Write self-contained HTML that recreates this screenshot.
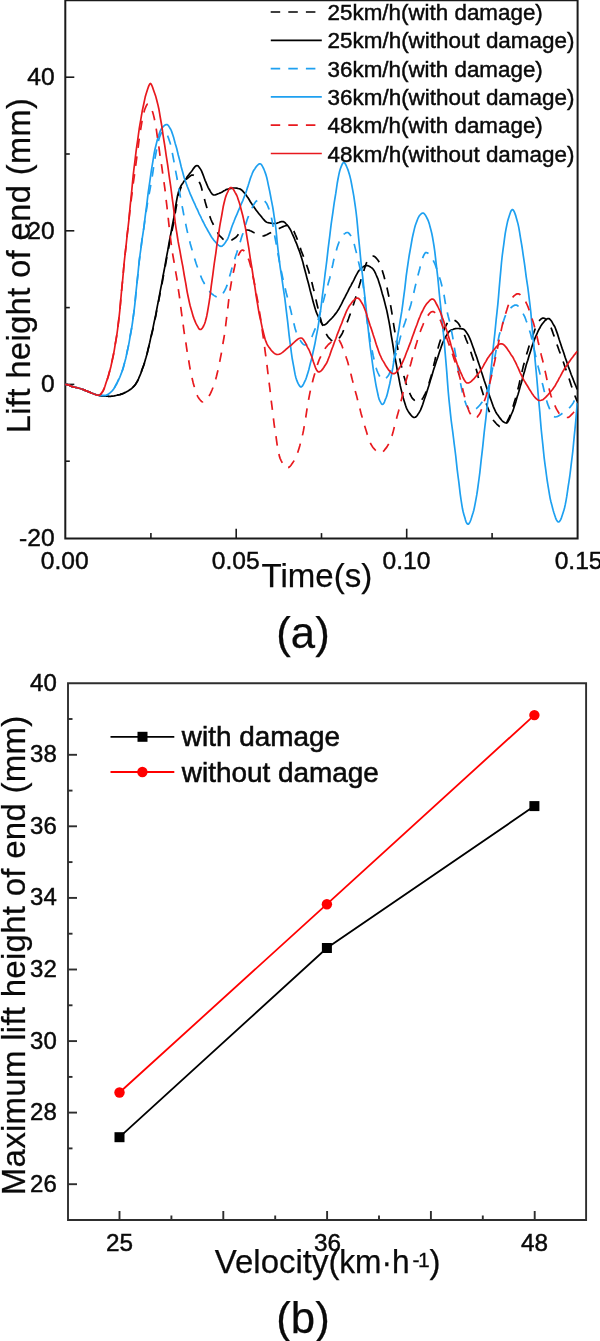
<!DOCTYPE html>
<html><head><meta charset="utf-8"><title>fig</title>
<style>html,body{margin:0;padding:0;background:#fff}body{width:600px;height:1341px;overflow:hidden}svg{display:block;will-change:transform}text{font-family:"Liberation Sans",sans-serif;fill:#0a0a0a;stroke:#0a0a0a;stroke-width:.45px}.big{stroke-width:.25px}</style></head><body>
<svg width="600" height="1341" viewBox="0 0 600 1341">
<rect width="600" height="1341" fill="#fff"/>
<g stroke="#1a1a1a" stroke-width="1.6" fill="none">
<path stroke-width="2" d="M65.3 0.3 V538.4 H577.6 V0.3 Z"/>
<path d="M65.3 77.2 h9"/>
<path d="M65.3 230.8 h9"/>
<path d="M65.3 384.4 h9"/>
<path d="M65.3 154.0 h4.5"/>
<path d="M65.3 307.6 h4.5"/>
<path d="M65.3 461.2 h4.5"/>
<path d="M150.9 538.4 v-5.3"/>
<path d="M236.2 538.4 v-9.7"/>
<path d="M321.5 538.4 v-5.3"/>
<path d="M406.7 538.4 v-9.7"/>
<path d="M492.1 538.4 v-5.3"/>
</g>
<clipPath id="ca"><rect x="65.3" y="0" width="512.3000000000001" height="538.4"/></clipPath>
<g clip-path="url(#ca)" fill="none" stroke-width="1.7" stroke-linejoin="round">
<path d="M65.0 384.5 L65.8 384.5 L66.5 384.6 L67.2 384.7 L68.0 384.8 L68.8 385.0 L69.5 385.3 L70.2 385.7 L71.0 386.1 L71.8 386.4 L72.5 386.7 L73.2 386.9 L74.0 387.1 L74.8 387.2 L75.5 387.4 L76.2 387.6 L77.0 387.7 L77.8 387.9 L78.5 388.1 L79.2 388.3 L80.0 388.5 L80.8 388.7 L81.5 389.0 L82.2 389.2 L83.0 389.5 L83.8 389.8 L84.5 390.1 L85.2 390.4 L86.0 390.7 L86.8 391.0 L87.5 391.3 L88.2 391.6 L89.0 391.9 L89.8 392.2 L90.5 392.6 L91.2 392.9 L92.0 393.2 L92.8 393.5 L93.5 393.8 L94.2 394.1 L95.0 394.3 L95.8 394.6 L96.5 394.8 L97.2 395.0 L98.0 395.1 L98.8 395.3 L99.5 395.4 L100.2 395.6 L101.0 395.7 L101.8 395.8 L102.5 395.9 L103.2 395.9 L104.0 396.0 L104.8 396.1 L105.5 396.1 L106.2 396.2 L107.0 396.2 L107.8 396.2 L108.5 396.3 L109.2 396.3 L110.0 396.3 L110.8 396.3 L111.5 396.2 L112.2 396.2 L113.0 396.1 L113.8 396.0 L114.5 395.8 L115.2 395.7 L116.0 395.5 L116.8 395.3 L117.5 395.1 L118.2 395.0 L119.0 394.8 L119.8 394.6 L120.5 394.4 L121.2 394.1 L122.0 393.9 L122.8 393.6 L123.5 393.3 L124.2 393.0 L125.0 392.6 L125.8 392.2 L126.5 391.8 L127.2 391.4 L128.0 391.0 L128.8 390.5 L129.5 390.1 L130.2 389.5 L131.0 389.0 L131.8 388.4 L132.5 387.7 L133.2 387.0 L134.0 386.2 L134.8 385.3 L135.5 384.3 L136.2 383.2 L137.0 381.9 L137.8 380.4 L138.5 378.8 L139.2 377.1 L140.0 375.3 L140.8 373.3 L141.5 371.3 L142.2 369.3 L143.0 367.1 L143.8 365.0 L144.5 362.7 L145.2 360.3 L146.0 357.7 L146.8 355.0 L147.5 352.1 L148.2 349.1 L149.0 346.0 L149.8 342.9 L150.5 339.7 L151.2 336.4 L152.0 333.2 L152.8 329.9 L153.5 326.5 L154.2 323.0 L155.0 319.4 L155.8 315.7 L156.5 311.9 L157.2 308.1 L158.0 304.3 L158.8 300.4 L159.5 296.6 L160.2 292.7 L161.0 288.8 L161.8 284.9 L162.5 281.0 L163.2 277.0 L164.0 273.0 L164.8 268.9 L165.5 264.9 L166.2 260.8 L167.0 256.8 L167.8 252.8 L168.5 248.8 L169.2 244.9 L170.0 241.0 L170.8 237.2 L171.5 233.5 L172.2 229.8 L173.0 226.0 L173.8 222.0 L174.5 217.7 L175.2 213.0 L176.0 208.3 L176.8 203.9 L177.5 200.0 L178.2 196.5 L179.0 193.3 L179.8 190.7 L180.5 188.8 L181.2 187.1 L182.0 185.6 L182.8 184.2 L183.5 183.1 L184.2 182.0 L185.0 181.0 L185.8 180.1 L186.5 179.2 L187.2 178.5 L188.0 177.8 L188.8 177.2 L189.5 176.6 L190.2 176.0 L191.0 175.5 L191.8 175.1 L192.5 175.0 L193.2 175.1 L194.0 175.5 L194.8 176.0 L195.5 176.6 L196.2 177.2 L197.0 178.1 L197.8 179.2 L198.5 180.5 L199.2 181.9 L200.0 183.5 L200.8 185.4 L201.5 187.8 L202.2 190.5 L203.0 193.3 L203.8 196.3 L204.5 199.2 L205.2 201.9 L206.0 204.7 L206.8 207.5 L207.5 210.0 L208.2 212.2 L209.0 214.3 L209.8 216.3 L210.5 218.2 L211.2 220.0 L212.0 221.8 L212.8 223.4 L213.5 225.0 L214.2 226.5 L215.0 228.0 L215.8 229.4 L216.5 230.8 L217.2 232.1 L218.0 233.4 L218.8 234.5 L219.5 235.4 L220.2 236.3 L221.0 237.0 L221.8 237.8 L222.5 238.6 L223.2 239.3 L224.0 239.9 L224.8 240.5 L225.5 240.9 L226.2 241.3 L227.0 241.5 L227.8 241.5 L228.5 241.4 L229.2 241.2 L230.0 241.0 L230.8 240.6 L231.5 240.2 L232.2 239.8 L233.0 239.3 L233.8 238.8 L234.5 238.3 L235.2 237.8 L236.0 237.2 L236.8 236.4 L237.5 235.5 L238.2 234.6 L239.0 233.7 L239.8 232.9 L240.5 232.3 L241.2 231.9 L242.0 231.5 L242.8 231.2 L243.5 230.9 L244.2 230.6 L245.0 230.4 L245.8 230.2 L246.5 230.1 L247.2 230.0 L248.0 230.0 L248.8 230.2 L249.5 230.4 L250.2 230.7 L251.0 231.0 L251.8 231.4 L252.5 231.8 L253.2 232.2 L254.0 232.6 L254.8 232.9 L255.5 233.2 L256.2 233.6 L257.0 234.0 L257.8 234.4 L258.5 234.7 L259.2 235.1 L260.0 235.4 L260.8 235.7 L261.5 235.9 L262.2 236.0 L263.0 236.0 L263.8 235.9 L264.5 235.6 L265.2 235.4 L266.0 235.0 L266.8 234.7 L267.5 234.3 L268.2 233.9 L269.0 233.5 L269.8 233.1 L270.5 232.8 L271.2 232.4 L272.0 232.0 L272.8 231.6 L273.5 231.3 L274.2 230.9 L275.0 230.4 L275.8 230.1 L276.5 229.7 L277.2 229.3 L278.0 228.9 L278.8 228.6 L279.5 228.3 L280.2 227.9 L281.0 227.6 L281.8 227.2 L282.5 226.9 L283.2 226.6 L284.0 226.3 L284.8 226.0 L285.5 225.8 L286.2 225.6 L287.0 225.5 L287.8 225.5 L288.5 225.7 L289.2 226.1 L290.0 226.7 L290.8 227.4 L291.5 228.2 L292.2 229.1 L293.0 230.0 L293.8 231.1 L294.5 232.6 L295.2 234.3 L296.0 236.1 L296.8 238.1 L297.5 240.0 L298.2 242.0 L299.0 244.1 L299.8 246.4 L300.5 248.6 L301.2 250.7 L302.0 252.7 L302.8 254.7 L303.5 256.6 L304.2 258.5 L305.0 260.5 L305.8 262.5 L306.5 264.6 L307.2 266.7 L308.0 269.1 L308.8 271.5 L309.5 274.1 L310.2 276.7 L311.0 279.5 L311.8 282.2 L312.5 285.0 L313.2 287.9 L314.0 290.9 L314.8 294.1 L315.5 297.4 L316.2 300.8 L317.0 304.2 L317.8 307.5 L318.5 310.7 L319.2 313.9 L320.0 316.8 L320.8 319.6 L321.5 322.1 L322.2 324.3 L323.0 326.3 L323.8 328.2 L324.5 330.0 L325.2 331.7 L326.0 333.3 L326.8 334.8 L327.5 336.1 L328.2 337.1 L329.0 338.0 L329.8 338.7 L330.5 339.5 L331.2 340.1 L332.0 340.7 L332.8 341.3 L333.5 341.7 L334.2 341.9 L335.0 342.0 L335.8 341.8 L336.5 341.3 L337.2 340.6 L338.0 339.7 L338.8 338.7 L339.5 337.7 L340.2 336.7 L341.0 335.5 L341.8 334.2 L342.5 332.8 L343.2 331.2 L344.0 329.6 L344.8 327.9 L345.5 326.2 L346.2 324.4 L347.0 322.6 L347.8 320.7 L348.5 318.8 L349.2 316.7 L350.0 314.6 L350.8 312.5 L351.5 310.3 L352.2 308.1 L353.0 305.8 L353.8 303.5 L354.5 301.2 L355.2 298.9 L356.0 296.6 L356.8 294.2 L357.5 291.8 L358.2 289.3 L359.0 286.7 L359.8 284.1 L360.5 281.5 L361.2 279.0 L362.0 276.5 L362.8 274.2 L363.5 271.9 L364.2 269.4 L365.0 267.1 L365.8 264.8 L366.5 262.8 L367.2 261.2 L368.0 260.0 L368.8 259.1 L369.5 258.2 L370.2 257.5 L371.0 256.8 L371.8 256.3 L372.5 256.1 L373.2 256.0 L374.0 256.2 L374.8 256.7 L375.5 257.3 L376.2 258.1 L377.0 259.0 L377.8 260.0 L378.5 261.0 L379.2 262.2 L380.0 263.8 L380.8 265.7 L381.5 267.9 L382.2 270.3 L383.0 272.9 L383.8 275.5 L384.5 278.2 L385.2 280.9 L386.0 283.8 L386.8 286.8 L387.5 290.1 L388.2 293.5 L389.0 297.1 L389.8 300.9 L390.5 304.8 L391.2 308.9 L392.0 313.6 L392.8 318.6 L393.5 323.5 L394.2 328.0 L395.0 332.6 L395.8 337.1 L396.5 341.5 L397.2 345.9 L398.0 350.0 L398.8 354.0 L399.5 357.7 L400.2 361.1 L401.0 364.4 L401.8 367.6 L402.5 370.6 L403.2 373.6 L404.0 376.4 L404.8 379.1 L405.5 381.6 L406.2 384.0 L407.0 386.1 L407.8 388.2 L408.5 390.1 L409.2 392.0 L410.0 393.8 L410.8 395.5 L411.5 396.9 L412.2 398.1 L413.0 399.0 L413.8 399.7 L414.5 400.4 L415.2 401.0 L416.0 401.5 L416.8 402.0 L417.5 402.3 L418.2 402.5 L419.0 402.5 L419.8 402.1 L420.5 401.5 L421.2 400.5 L422.0 399.4 L422.8 398.1 L423.5 396.9 L424.2 395.6 L425.0 394.1 L425.8 392.4 L426.5 390.5 L427.2 388.4 L428.0 386.2 L428.8 383.9 L429.5 381.6 L430.2 379.2 L431.0 376.6 L431.8 373.7 L432.5 370.6 L433.2 367.4 L434.0 364.1 L434.8 360.9 L435.5 357.7 L436.2 354.6 L437.0 351.8 L437.8 349.1 L438.5 346.6 L439.2 344.0 L440.0 341.5 L440.8 339.0 L441.5 336.7 L442.2 334.4 L443.0 332.3 L443.8 330.3 L444.5 328.6 L445.2 327.0 L446.0 325.5 L446.8 324.0 L447.5 322.7 L448.2 321.7 L449.0 321.0 L449.8 320.5 L450.5 320.1 L451.2 319.7 L452.0 319.5 L452.8 319.5 L453.5 319.7 L454.2 320.0 L455.0 320.5 L455.8 321.0 L456.5 321.6 L457.2 322.2 L458.0 323.0 L458.8 324.1 L459.5 325.3 L460.2 326.7 L461.0 328.1 L461.8 329.5 L462.5 331.0 L463.2 332.5 L464.0 334.2 L464.8 335.9 L465.5 337.7 L466.2 339.6 L467.0 341.5 L467.8 343.5 L468.5 345.5 L469.2 347.6 L470.0 349.8 L470.8 351.9 L471.5 354.1 L472.2 356.3 L473.0 358.5 L473.8 360.9 L474.5 363.3 L475.2 365.9 L476.0 368.6 L476.8 371.3 L477.5 374.1 L478.2 376.9 L479.0 379.7 L479.8 382.5 L480.5 385.3 L481.2 388.0 L482.0 390.6 L482.8 393.1 L483.5 395.6 L484.2 397.9 L485.0 400.0 L485.8 402.1 L486.5 404.2 L487.2 406.3 L488.0 408.3 L488.8 410.4 L489.5 412.3 L490.2 414.1 L491.0 415.9 L491.8 417.4 L492.5 418.8 L493.2 420.0 L494.0 421.0 L494.8 421.9 L495.5 422.7 L496.2 423.5 L497.0 424.3 L497.8 425.0 L498.5 425.7 L499.2 426.3 L500.0 426.7 L500.8 427.1 L501.5 427.4 L502.2 427.5 L503.0 427.4 L503.8 426.9 L504.5 426.1 L505.2 425.0 L506.0 423.7 L506.8 422.3 L507.5 420.9 L508.2 419.5 L509.0 418.0 L509.8 416.2 L510.5 414.2 L511.2 412.0 L512.0 409.8 L512.8 407.4 L513.5 405.0 L514.2 402.5 L515.0 400.0 L515.8 397.4 L516.5 394.7 L517.2 391.7 L518.0 388.7 L518.8 385.6 L519.5 382.4 L520.2 379.2 L521.0 375.9 L521.8 372.7 L522.5 369.6 L523.2 366.6 L524.0 363.7 L524.8 360.9 L525.5 358.3 L526.2 355.7 L527.0 353.1 L527.8 350.6 L528.5 348.1 L529.2 345.7 L530.0 343.4 L530.8 341.1 L531.5 338.8 L532.2 336.7 L533.0 334.6 L533.8 332.6 L534.5 330.7 L535.2 328.7 L536.0 326.8 L536.8 325.0 L537.5 323.3 L538.2 322.0 L539.0 321.0 L539.8 320.2 L540.5 319.5 L541.2 318.9 L542.0 318.4 L542.8 318.1 L543.5 318.0 L544.2 318.2 L545.0 318.6 L545.8 319.3 L546.5 320.1 L547.2 321.1 L548.0 322.0 L548.8 323.1 L549.5 324.4 L550.2 326.0 L551.0 327.7 L551.8 329.6 L552.5 331.6 L553.2 333.7 L554.0 335.9 L554.8 338.1 L555.5 340.4 L556.2 342.5 L557.0 344.6 L557.8 346.7 L558.5 348.7 L559.2 350.7 L560.0 352.8 L560.8 354.8 L561.5 356.9 L562.2 359.0 L563.0 361.1 L563.8 363.3 L564.5 365.4 L565.2 367.6 L566.0 369.7 L566.8 371.8 L567.5 374.0 L568.2 376.2 L569.0 378.4 L569.8 380.7 L570.5 383.0 L571.2 385.3 L572.0 387.5 L572.8 389.7 L573.5 391.9 L574.2 394.0 L575.0 396.0 L575.8 397.9 L576.5 399.7 L577.2 401.4" stroke="#000" stroke-dasharray="9.5 8.5"/>
<path d="M65.0 384.5 L65.8 384.5 L66.5 384.6 L67.2 384.7 L68.0 384.8 L68.8 385.0 L69.5 385.3 L70.2 385.7 L71.0 386.1 L71.8 386.4 L72.5 386.7 L73.2 386.9 L74.0 387.1 L74.8 387.2 L75.5 387.4 L76.2 387.6 L77.0 387.7 L77.8 387.9 L78.5 388.1 L79.2 388.3 L80.0 388.5 L80.8 388.7 L81.5 389.0 L82.2 389.2 L83.0 389.5 L83.8 389.8 L84.5 390.1 L85.2 390.4 L86.0 390.7 L86.8 391.0 L87.5 391.3 L88.2 391.6 L89.0 391.9 L89.8 392.2 L90.5 392.6 L91.2 392.9 L92.0 393.2 L92.8 393.5 L93.5 393.8 L94.2 394.1 L95.0 394.3 L95.8 394.6 L96.5 394.8 L97.2 395.0 L98.0 395.1 L98.8 395.3 L99.5 395.4 L100.2 395.6 L101.0 395.7 L101.8 395.8 L102.5 395.9 L103.2 395.9 L104.0 396.0 L104.8 396.1 L105.5 396.1 L106.2 396.2 L107.0 396.2 L107.8 396.2 L108.5 396.3 L109.2 396.3 L110.0 396.3 L110.8 396.3 L111.5 396.2 L112.2 396.2 L113.0 396.1 L113.8 396.0 L114.5 395.8 L115.2 395.7 L116.0 395.5 L116.8 395.3 L117.5 395.1 L118.2 395.0 L119.0 394.8 L119.8 394.6 L120.5 394.4 L121.2 394.1 L122.0 393.9 L122.8 393.6 L123.5 393.3 L124.2 393.0 L125.0 392.6 L125.8 392.2 L126.5 391.8 L127.2 391.4 L128.0 391.0 L128.8 390.5 L129.5 390.1 L130.2 389.5 L131.0 389.0 L131.8 388.4 L132.5 387.7 L133.2 387.0 L134.0 386.2 L134.8 385.3 L135.5 384.3 L136.2 383.2 L137.0 381.9 L137.8 380.5 L138.5 378.9 L139.2 377.1 L140.0 375.3 L140.8 373.4 L141.5 371.4 L142.2 369.3 L143.0 367.2 L143.8 365.0 L144.5 362.7 L145.2 360.2 L146.0 357.6 L146.8 354.7 L147.5 351.8 L148.2 348.7 L149.0 345.5 L149.8 342.2 L150.5 338.9 L151.2 335.6 L152.0 332.2 L152.8 328.9 L153.5 325.4 L154.2 321.9 L155.0 318.2 L155.8 314.5 L156.5 310.7 L157.2 306.8 L158.0 302.9 L158.8 299.0 L159.5 295.1 L160.2 291.2 L161.0 287.2 L161.8 283.2 L162.5 279.2 L163.2 275.1 L164.0 271.0 L164.8 266.9 L165.5 262.7 L166.2 258.6 L167.0 254.4 L167.8 250.3 L168.5 246.1 L169.2 242.1 L170.0 238.0 L170.8 234.0 L171.5 230.1 L172.2 226.1 L173.0 222.1 L173.8 218.0 L174.5 213.5 L175.2 208.7 L176.0 203.9 L176.8 199.6 L177.5 196.0 L178.2 193.1 L179.0 190.6 L179.8 188.6 L180.5 186.9 L181.2 185.5 L182.0 184.3 L182.8 183.2 L183.5 182.1 L184.2 181.1 L185.0 180.0 L185.8 178.9 L186.5 177.9 L187.2 176.8 L188.0 175.8 L188.8 174.8 L189.5 173.8 L190.2 172.9 L191.0 172.0 L191.8 171.0 L192.5 170.0 L193.2 168.9 L194.0 167.9 L194.8 166.9 L195.5 166.2 L196.2 165.7 L197.0 165.5 L197.8 165.7 L198.5 166.4 L199.2 167.3 L200.0 168.4 L200.8 169.6 L201.5 170.9 L202.2 172.6 L203.0 174.6 L203.8 176.7 L204.5 178.7 L205.2 180.6 L206.0 182.4 L206.8 184.3 L207.5 186.0 L208.2 187.6 L209.0 189.0 L209.8 190.3 L210.5 191.6 L211.2 192.8 L212.0 193.8 L212.8 194.6 L213.5 195.0 L214.2 195.0 L215.0 194.9 L215.8 194.7 L216.5 194.4 L217.2 194.2 L218.0 193.8 L218.8 193.5 L219.5 193.2 L220.2 192.9 L221.0 192.6 L221.8 192.2 L222.5 191.7 L223.2 191.3 L224.0 190.8 L224.8 190.4 L225.5 190.0 L226.2 189.6 L227.0 189.3 L227.8 189.1 L228.5 188.9 L229.2 188.7 L230.0 188.6 L230.8 188.4 L231.5 188.3 L232.2 188.2 L233.0 188.1 L233.8 188.0 L234.5 188.0 L235.2 188.0 L236.0 188.1 L236.8 188.2 L237.5 188.3 L238.2 188.5 L239.0 188.7 L239.8 188.9 L240.5 189.2 L241.2 189.7 L242.0 190.3 L242.8 191.1 L243.5 191.9 L244.2 192.8 L245.0 193.8 L245.8 194.7 L246.5 195.6 L247.2 196.7 L248.0 197.8 L248.8 199.0 L249.5 200.2 L250.2 201.5 L251.0 202.7 L251.8 203.9 L252.5 205.0 L253.2 206.1 L254.0 207.1 L254.8 208.2 L255.5 209.2 L256.2 210.3 L257.0 211.3 L257.8 212.3 L258.5 213.2 L259.2 214.1 L260.0 215.0 L260.8 215.9 L261.5 216.8 L262.2 217.8 L263.0 218.7 L263.8 219.6 L264.5 220.4 L265.2 221.2 L266.0 221.8 L266.8 222.2 L267.5 222.5 L268.2 222.7 L269.0 222.8 L269.8 223.0 L270.5 223.1 L271.2 223.2 L272.0 223.3 L272.8 223.4 L273.5 223.5 L274.2 223.5 L275.0 223.5 L275.8 223.4 L276.5 223.3 L277.2 223.1 L278.0 222.8 L278.8 222.5 L279.5 222.2 L280.2 221.9 L281.0 221.7 L281.8 221.6 L282.5 221.5 L283.2 221.6 L284.0 222.0 L284.8 222.5 L285.5 223.2 L286.2 224.0 L287.0 224.8 L287.8 225.7 L288.5 226.6 L289.2 227.7 L290.0 229.0 L290.8 230.4 L291.5 232.0 L292.2 233.6 L293.0 235.3 L293.8 237.1 L294.5 238.8 L295.2 240.6 L296.0 242.3 L296.8 244.2 L297.5 246.1 L298.2 248.1 L299.0 250.1 L299.8 252.3 L300.5 254.5 L301.2 256.8 L302.0 259.3 L302.8 261.9 L303.5 264.7 L304.2 267.6 L305.0 270.5 L305.8 273.4 L306.5 276.3 L307.2 279.1 L308.0 281.8 L308.8 284.7 L309.5 287.6 L310.2 290.5 L311.0 293.5 L311.8 296.4 L312.5 299.3 L313.2 302.1 L314.0 304.8 L314.8 307.4 L315.5 309.8 L316.2 311.9 L317.0 313.9 L317.8 315.5 L318.5 317.2 L319.2 318.8 L320.0 320.4 L320.8 321.9 L321.5 323.2 L322.2 324.1 L323.0 324.8 L323.8 325.0 L324.5 324.9 L325.2 324.5 L326.0 324.0 L326.8 323.4 L327.5 322.6 L328.2 321.8 L329.0 321.0 L329.8 320.2 L330.5 319.5 L331.2 318.8 L332.0 318.0 L332.8 317.1 L333.5 316.3 L334.2 315.4 L335.0 314.4 L335.8 313.4 L336.5 312.4 L337.2 311.4 L338.0 310.2 L338.8 309.0 L339.5 307.7 L340.2 306.3 L341.0 304.9 L341.8 303.4 L342.5 301.9 L343.2 300.4 L344.0 298.9 L344.8 297.5 L345.5 296.0 L346.2 294.6 L347.0 293.1 L347.8 291.7 L348.5 290.2 L349.2 288.7 L350.0 287.2 L350.8 285.8 L351.5 284.4 L352.2 283.0 L353.0 281.6 L353.8 280.1 L354.5 278.6 L355.2 277.1 L356.0 275.6 L356.8 274.2 L357.5 272.9 L358.2 271.6 L359.0 270.6 L359.8 269.7 L360.5 269.1 L361.2 268.4 L362.0 267.7 L362.8 267.1 L363.5 266.6 L364.2 266.1 L365.0 265.8 L365.8 265.6 L366.5 265.5 L367.2 265.6 L368.0 265.7 L368.8 266.0 L369.5 266.4 L370.2 266.8 L371.0 267.4 L371.8 267.9 L372.5 268.5 L373.2 269.3 L374.0 270.4 L374.8 271.8 L375.5 273.3 L376.2 275.0 L377.0 276.8 L377.8 278.6 L378.5 280.7 L379.2 283.0 L380.0 285.5 L380.8 288.1 L381.5 290.7 L382.2 293.4 L383.0 296.0 L383.8 298.8 L384.5 301.5 L385.2 304.4 L386.0 307.5 L386.8 310.6 L387.5 314.0 L388.2 317.7 L389.0 321.7 L389.8 326.0 L390.5 330.4 L391.2 335.1 L392.0 339.7 L392.8 344.4 L393.5 348.9 L394.2 353.3 L395.0 357.5 L395.8 361.6 L396.5 365.7 L397.2 369.8 L398.0 373.9 L398.8 377.9 L399.5 381.7 L400.2 385.4 L401.0 388.9 L401.8 392.1 L402.5 395.0 L403.2 397.7 L404.0 400.4 L404.8 402.9 L405.5 405.2 L406.2 407.3 L407.0 409.1 L407.8 410.6 L408.5 411.8 L409.2 412.9 L410.0 413.9 L410.8 414.9 L411.5 415.7 L412.2 416.5 L413.0 417.0 L413.8 417.4 L414.5 417.5 L415.2 417.3 L416.0 416.8 L416.8 416.0 L417.5 415.0 L418.2 413.9 L419.0 412.7 L419.8 411.4 L420.5 410.1 L421.2 408.4 L422.0 406.4 L422.8 404.3 L423.5 402.0 L424.2 399.7 L425.0 397.5 L425.8 395.3 L426.5 393.0 L427.2 390.7 L428.0 388.3 L428.8 385.8 L429.5 383.4 L430.2 380.9 L431.0 378.4 L431.8 375.9 L432.5 373.4 L433.2 371.0 L434.0 368.6 L434.8 366.3 L435.5 364.0 L436.2 361.8 L437.0 359.5 L437.8 357.2 L438.5 355.0 L439.2 352.7 L440.0 350.4 L440.8 348.2 L441.5 346.1 L442.2 344.1 L443.0 342.2 L443.8 340.5 L444.5 338.9 L445.2 337.6 L446.0 336.2 L446.8 335.0 L447.5 333.8 L448.2 332.7 L449.0 331.7 L449.8 331.0 L450.5 330.5 L451.2 330.1 L452.0 329.8 L452.8 329.5 L453.5 329.2 L454.2 328.9 L455.0 328.7 L455.8 328.6 L456.5 328.5 L457.2 328.5 L458.0 328.5 L458.8 328.5 L459.5 328.6 L460.2 328.7 L461.0 328.7 L461.8 328.8 L462.5 328.9 L463.2 329.1 L464.0 329.5 L464.8 330.2 L465.5 331.1 L466.2 332.1 L467.0 333.2 L467.8 334.4 L468.5 335.7 L469.2 337.2 L470.0 338.9 L470.8 340.8 L471.5 342.8 L472.2 344.8 L473.0 347.0 L473.8 349.1 L474.5 351.2 L475.2 353.3 L476.0 355.4 L476.8 357.5 L477.5 359.7 L478.2 361.9 L479.0 364.2 L479.8 366.5 L480.5 368.8 L481.2 371.2 L482.0 373.5 L482.8 375.9 L483.5 378.2 L484.2 380.5 L485.0 382.8 L485.8 385.0 L486.5 387.2 L487.2 389.3 L488.0 391.4 L488.8 393.5 L489.5 395.7 L490.2 397.9 L491.0 400.0 L491.8 402.2 L492.5 404.3 L493.2 406.3 L494.0 408.1 L494.8 409.9 L495.5 411.4 L496.2 412.8 L497.0 414.0 L497.8 415.1 L498.5 416.1 L499.2 417.1 L500.0 418.1 L500.8 419.1 L501.5 420.0 L502.2 420.8 L503.0 421.5 L503.8 422.1 L504.5 422.5 L505.2 422.8 L506.0 423.0 L506.8 422.9 L507.5 422.3 L508.2 421.2 L509.0 419.9 L509.8 418.3 L510.5 416.5 L511.2 414.7 L512.0 413.0 L512.8 411.2 L513.5 409.1 L514.2 406.8 L515.0 404.4 L515.8 401.9 L516.5 399.3 L517.2 396.8 L518.0 394.4 L518.8 391.8 L519.5 389.2 L520.2 386.6 L521.0 383.9 L521.8 381.2 L522.5 378.4 L523.2 375.7 L524.0 373.0 L524.8 370.4 L525.5 367.7 L526.2 365.1 L527.0 362.6 L527.8 360.2 L528.5 357.8 L529.2 355.3 L530.0 352.9 L530.8 350.4 L531.5 348.1 L532.2 345.8 L533.0 343.5 L533.8 341.4 L534.5 339.4 L535.2 337.6 L536.0 335.9 L536.8 334.2 L537.5 332.5 L538.2 330.9 L539.0 329.4 L539.8 328.0 L540.5 326.6 L541.2 325.4 L542.0 324.3 L542.8 323.3 L543.5 322.4 L544.2 321.5 L545.0 320.7 L545.8 319.9 L546.5 319.2 L547.2 318.8 L548.0 318.5 L548.8 318.6 L549.5 318.9 L550.2 319.6 L551.0 320.5 L551.8 321.6 L552.5 322.9 L553.2 324.2 L554.0 325.5 L554.8 326.8 L555.5 328.5 L556.2 330.4 L557.0 332.6 L557.8 334.9 L558.5 337.2 L559.2 339.6 L560.0 342.0 L560.8 344.3 L561.5 346.4 L562.2 348.6 L563.0 350.8 L563.8 353.0 L564.5 355.3 L565.2 357.5 L566.0 359.7 L566.8 361.9 L567.5 364.1 L568.2 366.3 L569.0 368.4 L569.8 370.5 L570.5 372.5 L571.2 374.5 L572.0 376.5 L572.8 378.4 L573.5 380.3 L574.2 382.2 L575.0 384.0 L575.8 385.8 L576.5 387.6 L577.2 389.4" stroke="#000"/>
<path d="M65.0 384.5 L65.8 384.5 L66.5 384.6 L67.2 384.7 L68.0 384.8 L68.8 385.0 L69.5 385.3 L70.2 385.7 L71.0 386.1 L71.8 386.4 L72.5 386.7 L73.2 386.9 L74.0 387.1 L74.8 387.2 L75.5 387.4 L76.2 387.6 L77.0 387.7 L77.8 387.9 L78.5 388.1 L79.2 388.3 L80.0 388.5 L80.8 388.7 L81.5 389.0 L82.2 389.2 L83.0 389.5 L83.8 389.8 L84.5 390.1 L85.2 390.4 L86.0 390.7 L86.8 391.0 L87.5 391.3 L88.2 391.6 L89.0 391.9 L89.8 392.2 L90.5 392.6 L91.2 392.9 L92.0 393.2 L92.8 393.5 L93.5 393.8 L94.2 394.1 L95.0 394.3 L95.8 394.6 L96.5 394.8 L97.2 395.1 L98.0 395.2 L98.8 395.3 L99.5 395.3 L100.2 395.4 L101.0 395.4 L101.8 395.4 L102.5 395.5 L103.2 395.5 L104.0 395.5 L104.8 395.5 L105.5 395.5 L106.2 395.3 L107.0 395.0 L107.8 394.6 L108.5 394.1 L109.2 393.5 L110.0 392.9 L110.8 392.2 L111.5 391.5 L112.2 390.8 L113.0 389.9 L113.8 388.8 L114.5 387.6 L115.2 386.3 L116.0 384.9 L116.8 383.5 L117.5 382.0 L118.2 380.5 L119.0 379.0 L119.8 377.3 L120.5 375.5 L121.2 373.6 L122.0 371.5 L122.8 369.2 L123.5 366.8 L124.2 364.1 L125.0 361.2 L125.8 358.2 L126.5 354.9 L127.2 351.5 L128.0 347.9 L128.8 344.1 L129.5 340.1 L130.2 336.0 L131.0 331.6 L131.8 327.2 L132.5 322.5 L133.2 317.3 L134.0 311.3 L134.8 304.7 L135.5 297.6 L136.2 290.2 L137.0 282.8 L137.8 275.3 L138.5 268.1 L139.2 261.3 L140.0 255.0 L140.8 249.2 L141.5 243.7 L142.2 238.4 L143.0 233.2 L143.8 228.0 L144.5 222.8 L145.2 217.6 L146.0 212.6 L146.8 207.7 L147.5 203.0 L148.2 198.6 L149.0 194.5 L149.8 190.6 L150.5 186.5 L151.2 182.3 L152.0 177.7 L152.8 172.8 L153.5 167.8 L154.2 162.9 L155.0 158.3 L155.8 154.2 L156.5 150.2 L157.2 146.4 L158.0 142.8 L158.8 139.7 L159.5 137.3 L160.2 135.4 L161.0 133.6 L161.8 132.1 L162.5 131.2 L163.2 131.0 L164.0 131.3 L164.8 131.9 L165.5 132.8 L166.2 133.7 L167.0 134.7 L167.8 136.2 L168.5 138.1 L169.2 140.2 L170.0 142.5 L170.8 145.3 L171.5 148.6 L172.2 152.4 L173.0 156.5 L173.8 160.7 L174.5 164.8 L175.2 168.8 L176.0 172.9 L176.8 177.0 L177.5 181.2 L178.2 185.5 L179.0 189.6 L179.8 193.7 L180.5 197.6 L181.2 201.6 L182.0 205.5 L182.8 209.5 L183.5 213.3 L184.2 217.1 L185.0 220.8 L185.8 224.4 L186.5 227.8 L187.2 231.1 L188.0 234.2 L188.8 237.4 L189.5 240.4 L190.2 243.4 L191.0 246.2 L191.8 249.0 L192.5 251.7 L193.2 254.3 L194.0 256.8 L194.8 259.2 L195.5 261.5 L196.2 263.8 L197.0 266.0 L197.8 268.1 L198.5 270.2 L199.2 272.3 L200.0 274.2 L200.8 276.1 L201.5 277.9 L202.2 279.5 L203.0 281.1 L203.8 282.5 L204.5 283.9 L205.2 285.2 L206.0 286.4 L206.8 287.7 L207.5 288.8 L208.2 289.9 L209.0 290.9 L209.8 291.8 L210.5 292.7 L211.2 293.4 L212.0 294.0 L212.8 294.5 L213.5 295.1 L214.2 295.6 L215.0 296.1 L215.8 296.5 L216.5 296.9 L217.2 297.2 L218.0 297.4 L218.8 297.5 L219.5 297.4 L220.2 297.0 L221.0 296.4 L221.8 295.5 L222.5 294.4 L223.2 293.1 L224.0 291.8 L224.8 290.4 L225.5 289.0 L226.2 287.4 L227.0 285.4 L227.8 283.0 L228.5 280.5 L229.2 277.8 L230.0 275.0 L230.8 272.3 L231.5 269.7 L232.2 267.2 L233.0 264.8 L233.8 262.4 L234.5 260.0 L235.2 257.5 L236.0 255.1 L236.8 252.7 L237.5 250.3 L238.2 248.0 L239.0 245.6 L239.8 243.3 L240.5 240.9 L241.2 238.5 L242.0 236.1 L242.8 233.7 L243.5 231.2 L244.2 228.8 L245.0 226.4 L245.8 224.0 L246.5 221.7 L247.2 219.5 L248.0 217.4 L248.8 215.5 L249.5 213.6 L250.2 212.0 L251.0 210.3 L251.8 208.6 L252.5 207.0 L253.2 205.5 L254.0 204.2 L254.8 202.9 L255.5 201.9 L256.2 201.2 L257.0 200.7 L257.8 200.2 L258.5 199.7 L259.2 199.4 L260.0 199.1 L260.8 199.0 L261.5 199.1 L262.2 199.3 L263.0 199.7 L263.8 200.3 L264.5 201.0 L265.2 201.7 L266.0 202.6 L266.8 203.8 L267.5 205.3 L268.2 207.1 L269.0 209.1 L269.8 211.2 L270.5 213.7 L271.2 216.8 L272.0 220.4 L272.8 224.4 L273.5 228.7 L274.2 233.1 L275.0 237.5 L275.8 241.7 L276.5 245.7 L277.2 249.8 L278.0 254.0 L278.8 258.2 L279.5 262.3 L280.2 266.3 L281.0 270.0 L281.8 273.5 L282.5 276.9 L283.2 280.2 L284.0 283.5 L284.8 286.6 L285.5 289.7 L286.2 292.8 L287.0 295.8 L287.8 298.7 L288.5 301.7 L289.2 304.6 L290.0 307.5 L290.8 310.5 L291.5 313.6 L292.2 316.8 L293.0 320.0 L293.8 323.1 L294.5 326.0 L295.2 328.7 L296.0 331.2 L296.8 333.3 L297.5 335.0 L298.2 336.5 L299.0 337.9 L299.8 339.3 L300.5 340.6 L301.2 341.8 L302.0 342.9 L302.8 343.8 L303.5 344.4 L304.2 344.9 L305.0 345.0 L305.8 344.8 L306.5 344.4 L307.2 343.6 L308.0 342.8 L308.8 341.7 L309.5 340.7 L310.2 339.6 L311.0 338.4 L311.8 336.9 L312.5 335.3 L313.2 333.5 L314.0 331.6 L314.8 329.7 L315.5 327.7 L316.2 325.5 L317.0 323.2 L317.8 320.9 L318.5 318.4 L319.2 315.8 L320.0 313.1 L320.8 310.4 L321.5 307.7 L322.2 304.9 L323.0 302.2 L323.8 299.5 L324.5 296.8 L325.2 294.1 L326.0 291.5 L326.8 288.9 L327.5 286.3 L328.2 283.6 L329.0 280.8 L329.8 278.0 L330.5 274.9 L331.2 271.6 L332.0 268.0 L332.8 264.5 L333.5 261.0 L334.2 257.8 L335.0 255.0 L335.8 252.4 L336.5 249.9 L337.2 247.3 L338.0 244.9 L338.8 242.7 L339.5 240.6 L340.2 238.8 L341.0 237.4 L341.8 236.3 L342.5 235.5 L343.2 234.8 L344.0 234.1 L344.8 233.6 L345.5 233.1 L346.2 232.7 L347.0 232.5 L347.8 232.5 L348.5 232.9 L349.2 233.6 L350.0 234.6 L350.8 235.8 L351.5 237.1 L352.2 238.5 L353.0 240.3 L353.8 242.5 L354.5 245.2 L355.2 248.1 L356.0 251.1 L356.8 254.3 L357.5 257.5 L358.2 260.7 L359.0 263.9 L359.8 267.2 L360.5 270.8 L361.2 274.6 L362.0 278.7 L362.8 283.3 L363.5 288.2 L364.2 294.3 L365.0 302.4 L365.8 310.3 L366.5 316.4 L367.2 321.9 L368.0 327.2 L368.8 332.1 L369.5 336.7 L370.2 341.0 L371.0 345.1 L371.8 348.9 L372.5 352.5 L373.2 355.9 L374.0 359.3 L374.8 362.5 L375.5 365.5 L376.2 368.2 L377.0 370.5 L377.8 372.5 L378.5 374.0 L379.2 375.5 L380.0 376.9 L380.8 378.1 L381.5 379.1 L382.2 379.8 L383.0 380.0 L383.8 379.9 L384.5 379.5 L385.2 379.0 L386.0 378.3 L386.8 377.5 L387.5 376.6 L388.2 375.7 L389.0 374.4 L389.8 372.7 L390.5 370.7 L391.2 368.6 L392.0 366.4 L392.8 364.3 L393.5 362.0 L394.2 359.6 L395.0 357.1 L395.8 354.5 L396.5 351.8 L397.2 349.0 L398.0 346.2 L398.8 343.4 L399.5 340.6 L400.2 337.8 L401.0 335.1 L401.8 332.5 L402.5 330.0 L403.2 327.6 L404.0 325.3 L404.8 323.1 L405.5 320.9 L406.2 318.8 L407.0 316.6 L407.8 314.4 L408.5 312.2 L409.2 309.9 L410.0 307.4 L410.8 304.9 L411.5 302.1 L412.2 299.2 L413.0 296.0 L413.8 292.8 L414.5 289.6 L415.2 286.5 L416.0 283.4 L416.8 280.4 L417.5 277.4 L418.2 274.4 L419.0 271.5 L419.8 268.5 L420.5 265.3 L421.2 262.4 L422.0 259.7 L422.8 257.6 L423.5 255.9 L424.2 254.4 L425.0 253.2 L425.8 252.5 L426.5 252.6 L427.2 252.8 L428.0 253.3 L428.8 253.9 L429.5 254.5 L430.2 255.2 L431.0 256.2 L431.8 257.4 L432.5 258.9 L433.2 260.4 L434.0 262.0 L434.8 263.7 L435.5 265.5 L436.2 267.5 L437.0 269.7 L437.8 271.9 L438.5 274.2 L439.2 276.6 L440.0 279.0 L440.8 281.6 L441.5 284.3 L442.2 287.2 L443.0 290.3 L443.8 293.7 L444.5 297.8 L445.2 302.3 L446.0 306.5 L446.8 310.1 L447.5 313.3 L448.2 316.3 L449.0 319.3 L449.8 322.4 L450.5 325.6 L451.2 329.3 L452.0 333.3 L452.8 337.7 L453.5 342.3 L454.2 346.9 L455.0 351.4 L455.8 355.7 L456.5 359.9 L457.2 364.3 L458.0 368.7 L458.8 373.1 L459.5 377.5 L460.2 381.7 L461.0 385.7 L461.8 389.4 L462.5 392.8 L463.2 395.8 L464.0 398.3 L464.8 400.7 L465.5 402.8 L466.2 404.8 L467.0 406.4 L467.8 407.7 L468.5 408.6 L469.2 409.4 L470.0 410.1 L470.8 410.6 L471.5 410.9 L472.2 411.0 L473.0 410.8 L473.8 410.5 L474.5 410.0 L475.2 409.5 L476.0 408.8 L476.8 408.2 L477.5 407.5 L478.2 406.8 L479.0 406.0 L479.8 405.2 L480.5 404.3 L481.2 403.3 L482.0 402.2 L482.8 401.1 L483.5 399.8 L484.2 398.5 L485.0 397.0 L485.8 395.3 L486.5 393.3 L487.2 391.0 L488.0 388.6 L488.8 385.9 L489.5 383.1 L490.2 379.8 L491.0 376.3 L491.8 372.5 L492.5 368.7 L493.2 364.9 L494.0 361.3 L494.8 357.5 L495.5 353.7 L496.2 349.7 L497.0 345.9 L497.8 342.1 L498.5 338.6 L499.2 335.3 L500.0 332.5 L500.8 329.9 L501.5 327.3 L502.2 324.8 L503.0 322.4 L503.8 320.2 L504.5 318.0 L505.2 316.1 L506.0 314.4 L506.8 312.9 L507.5 311.7 L508.2 310.7 L509.0 309.8 L509.8 309.0 L510.5 308.2 L511.2 307.5 L512.0 306.8 L512.8 306.2 L513.5 305.8 L514.2 305.4 L515.0 305.1 L515.8 305.0 L516.5 305.1 L517.2 305.4 L518.0 306.0 L518.8 306.8 L519.5 307.8 L520.2 308.9 L521.0 310.1 L521.8 311.3 L522.5 312.5 L523.2 313.8 L524.0 315.3 L524.8 316.9 L525.5 318.7 L526.2 320.7 L527.0 322.8 L527.8 324.9 L528.5 327.2 L529.2 329.6 L530.0 332.0 L530.8 334.6 L531.5 337.6 L532.2 340.7 L533.0 344.1 L533.8 347.5 L534.5 350.9 L535.2 354.3 L536.0 357.5 L536.8 360.6 L537.5 363.8 L538.2 366.9 L539.0 370.0 L539.8 373.1 L540.5 376.1 L541.2 379.1 L542.0 382.1 L542.8 385.0 L543.5 388.0 L544.2 391.0 L545.0 394.1 L545.8 397.1 L546.5 399.9 L547.2 402.6 L548.0 404.9 L548.8 406.9 L549.5 408.6 L550.2 410.3 L551.0 411.9 L551.8 413.4 L552.5 414.8 L553.2 415.8 L554.0 416.6 L554.8 417.0 L555.5 417.0 L556.2 416.8 L557.0 416.6 L557.8 416.3 L558.5 415.9 L559.2 415.5 L560.0 415.0 L560.8 414.5 L561.5 414.0 L562.2 413.5 L563.0 413.0 L563.8 412.5 L564.5 412.0 L565.2 411.4 L566.0 410.9 L566.8 410.3 L567.5 409.6 L568.2 408.9 L569.0 408.2 L569.8 407.4 L570.5 406.6 L571.2 405.7 L572.0 404.7 L572.8 403.6 L573.5 402.3 L574.2 400.8 L575.0 399.1 L575.8 397.2 L576.5 395.2 L577.2 393.2" stroke="#1ea0f0" stroke-dasharray="9.5 8.5"/>
<path d="M65.0 384.5 L65.8 384.5 L66.5 384.6 L67.2 384.7 L68.0 384.8 L68.8 385.0 L69.5 385.3 L70.2 385.7 L71.0 386.1 L71.8 386.4 L72.5 386.7 L73.2 386.9 L74.0 387.1 L74.8 387.2 L75.5 387.4 L76.2 387.6 L77.0 387.7 L77.8 387.9 L78.5 388.1 L79.2 388.3 L80.0 388.5 L80.8 388.7 L81.5 389.0 L82.2 389.2 L83.0 389.5 L83.8 389.8 L84.5 390.1 L85.2 390.4 L86.0 390.7 L86.8 391.0 L87.5 391.3 L88.2 391.6 L89.0 391.9 L89.8 392.2 L90.5 392.6 L91.2 392.9 L92.0 393.2 L92.8 393.5 L93.5 393.8 L94.2 394.1 L95.0 394.3 L95.8 394.6 L96.5 394.8 L97.2 395.1 L98.0 395.2 L98.8 395.3 L99.5 395.3 L100.2 395.4 L101.0 395.4 L101.8 395.4 L102.5 395.5 L103.2 395.5 L104.0 395.5 L104.8 395.5 L105.5 395.5 L106.2 395.3 L107.0 395.0 L107.8 394.6 L108.5 394.1 L109.2 393.5 L110.0 392.9 L110.8 392.2 L111.5 391.5 L112.2 390.8 L113.0 389.9 L113.8 388.8 L114.5 387.6 L115.2 386.3 L116.0 384.9 L116.8 383.5 L117.5 382.0 L118.2 380.5 L119.0 379.0 L119.8 377.3 L120.5 375.5 L121.2 373.6 L122.0 371.5 L122.8 369.2 L123.5 366.8 L124.2 364.1 L125.0 361.2 L125.8 358.2 L126.5 354.9 L127.2 351.5 L128.0 347.9 L128.8 344.1 L129.5 340.1 L130.2 336.0 L131.0 331.6 L131.8 327.2 L132.5 322.5 L133.2 317.3 L134.0 311.3 L134.8 304.7 L135.5 297.6 L136.2 290.2 L137.0 282.8 L137.8 275.3 L138.5 268.1 L139.2 261.3 L140.0 255.0 L140.8 249.3 L141.5 243.9 L142.2 238.7 L143.0 233.4 L143.8 228.0 L144.5 222.3 L145.2 216.4 L146.0 210.4 L146.8 204.4 L147.5 198.4 L148.2 192.6 L149.0 187.0 L149.8 181.7 L150.5 176.7 L151.2 171.7 L152.0 166.7 L152.8 161.9 L153.5 157.4 L154.2 153.1 L155.0 149.3 L155.8 146.0 L156.5 143.1 L157.2 140.3 L158.0 137.7 L158.8 135.3 L159.5 133.0 L160.2 131.1 L161.0 129.5 L161.8 128.3 L162.5 127.4 L163.2 126.6 L164.0 125.9 L164.8 125.3 L165.5 124.8 L166.2 124.6 L167.0 124.5 L167.8 124.9 L168.5 125.8 L169.2 126.9 L170.0 128.2 L170.8 129.5 L171.5 131.1 L172.2 133.1 L173.0 135.5 L173.8 138.1 L174.5 140.8 L175.2 143.4 L176.0 146.0 L176.8 148.8 L177.5 151.7 L178.2 154.7 L179.0 157.7 L179.8 160.8 L180.5 163.8 L181.2 166.8 L182.0 169.7 L182.8 172.5 L183.5 175.2 L184.2 177.7 L185.0 180.0 L185.8 182.2 L186.5 184.3 L187.2 186.3 L188.0 188.3 L188.8 190.2 L189.5 192.0 L190.2 193.9 L191.0 195.6 L191.8 197.4 L192.5 199.1 L193.2 200.7 L194.0 202.4 L194.8 204.0 L195.5 205.7 L196.2 207.3 L197.0 208.9 L197.8 210.5 L198.5 212.2 L199.2 213.8 L200.0 215.4 L200.8 216.9 L201.5 218.5 L202.2 220.0 L203.0 221.5 L203.8 223.0 L204.5 224.5 L205.2 225.9 L206.0 227.3 L206.8 228.7 L207.5 230.0 L208.2 231.3 L209.0 232.6 L209.8 234.0 L210.5 235.3 L211.2 236.5 L212.0 237.7 L212.8 238.8 L213.5 239.8 L214.2 240.7 L215.0 241.5 L215.8 242.4 L216.5 243.2 L217.2 244.0 L218.0 244.8 L218.8 245.4 L219.5 245.9 L220.2 246.2 L221.0 246.3 L221.8 246.2 L222.5 245.7 L223.2 245.1 L224.0 244.3 L224.8 243.3 L225.5 242.3 L226.2 241.1 L227.0 240.0 L227.8 238.6 L228.5 236.8 L229.2 234.7 L230.0 232.4 L230.8 230.1 L231.5 227.8 L232.2 225.7 L233.0 223.7 L233.8 221.8 L234.5 220.0 L235.2 218.2 L236.0 216.4 L236.8 214.7 L237.5 212.9 L238.2 211.2 L239.0 209.4 L239.8 207.7 L240.5 206.0 L241.2 204.2 L242.0 202.4 L242.8 200.6 L243.5 198.8 L244.2 196.9 L245.0 195.0 L245.8 193.0 L246.5 190.8 L247.2 188.4 L248.0 186.1 L248.8 183.6 L249.5 181.2 L250.2 178.9 L251.0 176.7 L251.8 174.7 L252.5 172.8 L253.2 171.3 L254.0 170.0 L254.8 168.9 L255.5 167.8 L256.2 166.7 L257.0 165.8 L257.8 165.0 L258.5 164.3 L259.2 163.9 L260.0 163.8 L260.8 164.0 L261.5 164.8 L262.2 165.9 L263.0 167.4 L263.8 169.0 L264.5 170.8 L265.2 172.6 L266.0 174.9 L266.8 177.7 L267.5 180.9 L268.2 184.4 L269.0 188.1 L269.8 191.8 L270.5 195.5 L271.2 199.3 L272.0 203.3 L272.8 207.5 L273.5 212.0 L274.2 216.8 L275.0 222.0 L275.8 228.0 L276.5 234.9 L277.2 242.3 L278.0 249.5 L278.8 256.0 L279.5 261.8 L280.2 267.3 L281.0 272.5 L281.8 277.6 L282.5 282.6 L283.2 287.6 L284.0 292.8 L284.8 298.1 L285.5 303.8 L286.2 309.9 L287.0 316.3 L287.8 322.8 L288.5 329.4 L289.2 335.9 L290.0 342.2 L290.8 348.1 L291.5 353.6 L292.2 358.5 L293.0 362.9 L293.8 367.2 L294.5 371.2 L295.2 374.9 L296.0 378.0 L296.8 380.4 L297.5 382.1 L298.2 383.7 L299.0 385.1 L299.8 386.2 L300.5 386.9 L301.2 387.0 L302.0 386.4 L302.8 385.4 L303.5 384.1 L304.2 382.6 L305.0 381.0 L305.8 379.3 L306.5 377.3 L307.2 374.9 L308.0 372.4 L308.8 369.7 L309.5 366.9 L310.2 364.0 L311.0 361.1 L311.8 358.0 L312.5 354.8 L313.2 351.5 L314.0 348.0 L314.8 344.3 L315.5 340.6 L316.2 336.6 L317.0 332.6 L317.8 328.4 L318.5 324.0 L319.2 319.4 L320.0 314.3 L320.8 308.9 L321.5 303.2 L322.2 297.2 L323.0 291.1 L323.8 285.0 L324.5 279.0 L325.2 273.0 L326.0 267.0 L326.8 260.7 L327.5 254.4 L328.2 248.1 L329.0 241.8 L329.8 235.7 L330.5 229.6 L331.2 223.9 L332.0 218.3 L332.8 213.0 L333.5 207.8 L334.2 202.8 L335.0 198.0 L335.8 193.2 L336.5 188.3 L337.2 183.5 L338.0 179.0 L338.8 174.9 L339.5 171.7 L340.2 169.3 L341.0 167.1 L341.8 165.2 L342.5 163.6 L343.2 162.7 L344.0 162.5 L344.8 163.1 L345.5 164.2 L346.2 165.7 L347.0 167.5 L347.8 169.4 L348.5 171.4 L349.2 173.8 L350.0 176.6 L350.8 179.9 L351.5 183.5 L352.2 187.4 L353.0 191.6 L353.8 196.1 L354.5 200.8 L355.2 205.7 L356.0 211.5 L356.8 218.3 L357.5 225.7 L358.2 233.6 L359.0 241.6 L359.8 249.6 L360.5 257.2 L361.2 264.3 L362.0 271.1 L362.8 277.8 L363.5 284.5 L364.2 291.2 L365.0 298.0 L365.8 305.1 L366.5 312.4 L367.2 319.9 L368.0 327.2 L368.8 334.3 L369.5 340.9 L370.2 347.0 L371.0 352.7 L371.8 358.3 L372.5 363.6 L373.2 368.7 L374.0 373.6 L374.8 378.1 L375.5 382.4 L376.2 386.3 L377.0 390.1 L377.8 393.8 L378.5 397.0 L379.2 399.4 L380.0 401.1 L380.8 402.6 L381.5 403.8 L382.2 404.5 L383.0 404.3 L383.8 403.3 L384.5 401.8 L385.2 399.9 L386.0 398.0 L386.8 395.9 L387.5 393.2 L388.2 390.3 L389.0 387.0 L389.8 383.5 L390.5 380.0 L391.2 376.3 L392.0 372.2 L392.8 367.9 L393.5 363.4 L394.2 358.7 L395.0 353.9 L395.8 349.0 L396.5 344.1 L397.2 339.2 L398.0 334.4 L398.8 329.7 L399.5 325.1 L400.2 320.6 L401.0 315.9 L401.8 311.2 L402.5 306.1 L403.2 300.6 L404.0 294.7 L404.8 288.6 L405.5 282.3 L406.2 276.2 L407.0 270.4 L407.8 264.9 L408.5 260.0 L409.2 255.5 L410.0 251.0 L410.8 246.6 L411.5 242.5 L412.2 238.5 L413.0 234.8 L413.8 231.4 L414.5 228.4 L415.2 225.8 L416.0 223.5 L416.8 221.4 L417.5 219.5 L418.2 217.8 L419.0 216.3 L419.8 215.3 L420.5 214.5 L421.2 213.8 L422.0 213.3 L422.8 213.0 L423.5 213.1 L424.2 213.7 L425.0 214.6 L425.8 215.8 L426.5 217.1 L427.2 218.5 L428.0 220.1 L428.8 222.2 L429.5 224.6 L430.2 227.3 L431.0 230.3 L431.8 233.5 L432.5 237.0 L433.2 241.1 L434.0 246.0 L434.8 251.6 L435.5 257.7 L436.2 264.2 L437.0 270.9 L437.8 277.7 L438.5 284.8 L439.2 292.6 L440.0 300.5 L440.8 307.9 L441.5 315.1 L442.2 322.1 L443.0 329.3 L443.8 336.8 L444.5 344.7 L445.2 353.4 L446.0 362.8 L446.8 372.4 L447.5 382.1 L448.2 391.3 L449.0 399.9 L449.8 407.4 L450.5 414.2 L451.2 420.5 L452.0 426.5 L452.8 432.3 L453.5 438.0 L454.2 443.9 L455.0 450.0 L455.8 456.5 L456.5 463.1 L457.2 469.7 L458.0 476.0 L458.8 481.9 L459.5 487.9 L460.2 493.8 L461.0 499.5 L461.8 504.6 L462.5 508.8 L463.2 512.0 L464.0 514.9 L464.8 517.6 L465.5 520.1 L466.2 522.1 L467.0 523.5 L467.8 524.2 L468.5 524.1 L469.2 523.3 L470.0 521.8 L470.8 520.0 L471.5 517.8 L472.2 515.4 L473.0 513.0 L473.8 510.3 L474.5 507.0 L475.2 503.3 L476.0 499.1 L476.8 494.7 L477.5 490.0 L478.2 484.9 L479.0 479.0 L479.8 472.8 L480.5 466.3 L481.2 459.8 L482.0 453.1 L482.8 446.2 L483.5 439.2 L484.2 432.3 L485.0 425.5 L485.8 418.9 L486.5 412.3 L487.2 405.6 L488.0 398.8 L488.8 391.9 L489.5 384.7 L490.2 377.4 L491.0 370.1 L491.8 362.7 L492.5 355.3 L493.2 348.0 L494.0 340.8 L494.8 333.6 L495.5 326.5 L496.2 319.4 L497.0 312.1 L497.8 304.6 L498.5 296.8 L499.2 288.2 L500.0 279.2 L500.8 270.4 L501.5 262.5 L502.2 256.0 L503.0 249.9 L503.8 244.2 L504.5 238.7 L505.2 233.7 L506.0 229.2 L506.8 225.2 L507.5 221.8 L508.2 219.2 L509.0 216.7 L509.8 214.3 L510.5 212.2 L511.2 210.6 L512.0 209.7 L512.8 209.6 L513.5 210.3 L514.2 211.7 L515.0 213.6 L515.8 215.9 L516.5 218.4 L517.2 220.9 L518.0 223.9 L518.8 227.6 L519.5 231.7 L520.2 236.2 L521.0 240.8 L521.8 245.5 L522.5 250.2 L523.2 255.2 L524.0 260.4 L524.8 265.9 L525.5 271.4 L526.2 276.8 L527.0 282.1 L527.8 287.4 L528.5 292.9 L529.2 298.7 L530.0 305.0 L530.8 312.1 L531.5 319.9 L532.2 328.2 L533.0 336.7 L533.8 345.0 L534.5 353.2 L535.2 361.4 L536.0 369.7 L536.8 378.1 L537.5 386.4 L538.2 394.8 L539.0 403.5 L539.8 412.2 L540.5 420.9 L541.2 429.2 L542.0 437.0 L542.8 444.3 L543.5 451.4 L544.2 458.1 L545.0 464.4 L545.8 470.2 L546.5 475.5 L547.2 480.7 L548.0 485.7 L548.8 490.4 L549.5 494.7 L550.2 498.6 L551.0 502.0 L551.8 504.9 L552.5 507.7 L553.2 510.4 L554.0 513.0 L554.8 515.4 L555.5 517.6 L556.2 519.4 L557.0 520.8 L557.8 521.7 L558.5 522.0 L559.2 521.7 L560.0 520.8 L560.8 519.4 L561.5 517.6 L562.2 515.5 L563.0 513.1 L563.8 510.6 L564.5 508.0 L565.2 504.9 L566.0 500.8 L566.8 496.2 L567.5 491.3 L568.2 486.4 L569.0 481.3 L569.8 476.0 L570.5 470.3 L571.2 464.3 L572.0 458.0 L572.8 451.3 L573.5 444.2 L574.2 436.7 L575.0 428.8 L575.8 420.6 L576.5 412.0 L577.2 403.1" stroke="#1ea0f0"/>
<path d="M65.0 384.5 L65.8 384.5 L66.5 384.6 L67.2 384.7 L68.0 384.8 L68.8 385.0 L69.5 385.3 L70.2 385.7 L71.0 386.1 L71.8 386.4 L72.5 386.7 L73.2 386.9 L74.0 387.1 L74.8 387.2 L75.5 387.4 L76.2 387.6 L77.0 387.7 L77.8 387.9 L78.5 388.1 L79.2 388.3 L80.0 388.5 L80.8 388.7 L81.5 389.0 L82.2 389.2 L83.0 389.5 L83.8 389.8 L84.5 390.1 L85.2 390.4 L86.0 390.7 L86.8 391.0 L87.5 391.3 L88.2 391.6 L89.0 391.9 L89.8 392.2 L90.5 392.6 L91.2 392.9 L92.0 393.2 L92.8 393.5 L93.5 393.8 L94.2 394.1 L95.0 394.4 L95.8 394.6 L96.5 394.9 L97.2 395.1 L98.0 395.2 L98.8 395.3 L99.5 395.1 L100.2 394.6 L101.0 393.8 L101.8 392.8 L102.5 391.8 L103.2 390.6 L104.0 388.9 L104.8 386.8 L105.5 384.5 L106.2 382.3 L107.0 380.1 L107.8 377.8 L108.5 375.4 L109.2 372.8 L110.0 370.0 L110.8 367.0 L111.5 363.7 L112.2 360.3 L113.0 356.7 L113.8 352.8 L114.5 348.8 L115.2 344.4 L116.0 339.9 L116.8 335.1 L117.5 330.0 L118.2 324.3 L119.0 317.8 L119.8 310.6 L120.5 302.9 L121.2 294.8 L122.0 286.5 L122.8 278.3 L123.5 270.2 L124.2 262.3 L125.0 255.0 L125.8 248.1 L126.5 241.3 L127.2 234.6 L128.0 228.0 L128.8 221.3 L129.5 214.7 L130.2 208.1 L131.0 201.6 L131.8 195.4 L132.5 189.5 L133.2 183.7 L134.0 178.1 L134.8 172.6 L135.5 167.1 L136.2 161.6 L137.0 156.0 L137.8 150.2 L138.5 144.4 L139.2 138.8 L140.0 133.5 L140.8 128.6 L141.5 124.3 L142.2 120.1 L143.0 116.3 L143.8 112.9 L144.5 110.3 L145.2 108.3 L146.0 106.4 L146.8 104.9 L147.5 104.1 L148.2 104.1 L149.0 104.8 L149.8 105.8 L150.5 107.0 L151.2 108.4 L152.0 110.3 L152.8 112.5 L153.5 115.1 L154.2 118.0 L155.0 121.7 L155.8 126.0 L156.5 130.7 L157.2 135.8 L158.0 141.1 L158.8 146.4 L159.5 151.6 L160.2 156.7 L161.0 161.6 L161.8 166.6 L162.5 171.8 L163.2 177.0 L164.0 182.4 L164.8 188.1 L165.5 194.0 L166.2 200.4 L167.0 207.0 L167.8 213.8 L168.5 220.6 L169.2 227.2 L170.0 234.1 L170.8 240.6 L171.5 246.1 L172.2 251.2 L173.0 256.0 L173.8 260.5 L174.5 264.8 L175.2 269.2 L176.0 273.6 L176.8 278.2 L177.5 283.0 L178.2 288.2 L179.0 293.6 L179.8 299.1 L180.5 304.8 L181.2 310.6 L182.0 316.3 L182.8 321.9 L183.5 327.3 L184.2 332.6 L185.0 337.5 L185.8 342.3 L186.5 347.1 L187.2 351.8 L188.0 356.5 L188.8 361.0 L189.5 365.4 L190.2 369.5 L191.0 373.3 L191.8 376.8 L192.5 380.0 L193.2 382.9 L194.0 385.8 L194.8 388.5 L195.5 391.0 L196.2 393.2 L197.0 395.1 L197.8 396.6 L198.5 397.7 L199.2 398.8 L200.0 399.8 L200.8 400.7 L201.5 401.4 L202.2 401.8 L203.0 402.0 L203.8 401.9 L204.5 401.5 L205.2 400.9 L206.0 400.1 L206.8 399.1 L207.5 398.1 L208.2 397.1 L209.0 396.0 L209.8 394.8 L210.5 393.4 L211.2 391.8 L212.0 390.0 L212.8 388.0 L213.5 385.9 L214.2 383.7 L215.0 381.3 L215.8 378.8 L216.5 376.2 L217.2 373.3 L218.0 370.1 L218.8 366.7 L219.5 363.0 L220.2 359.1 L221.0 355.1 L221.8 350.8 L222.5 346.5 L223.2 342.0 L224.0 337.5 L224.8 332.6 L225.5 327.0 L226.2 321.0 L227.0 314.7 L227.8 308.3 L228.5 302.0 L229.2 296.0 L230.0 290.5 L230.8 285.6 L231.5 281.5 L232.2 277.7 L233.0 274.0 L233.8 270.5 L234.5 267.2 L235.2 264.1 L236.0 261.4 L236.8 259.0 L237.5 257.1 L238.2 255.5 L239.0 254.1 L239.8 252.7 L240.5 251.5 L241.2 250.6 L242.0 250.1 L242.8 250.0 L243.5 250.4 L244.2 251.1 L245.0 252.2 L245.8 253.4 L246.5 254.9 L247.2 256.4 L248.0 258.0 L248.8 259.8 L249.5 262.0 L250.2 264.5 L251.0 267.4 L251.8 270.5 L252.5 273.9 L253.2 277.5 L254.0 281.3 L254.8 285.2 L255.5 289.2 L256.2 293.3 L257.0 297.3 L257.8 301.4 L258.5 305.6 L259.2 310.1 L260.0 314.9 L260.8 319.8 L261.5 324.9 L262.2 330.1 L263.0 335.5 L263.8 340.9 L264.5 346.3 L265.2 351.8 L266.0 357.6 L266.8 363.5 L267.5 369.6 L268.2 375.7 L269.0 381.9 L269.8 388.0 L270.5 394.1 L271.2 400.3 L272.0 406.7 L272.8 413.0 L273.5 419.0 L274.2 424.8 L275.0 430.0 L275.8 435.0 L276.5 440.1 L277.2 445.1 L278.0 449.6 L278.8 453.5 L279.5 456.6 L280.2 458.6 L281.0 460.3 L281.8 461.9 L282.5 463.3 L283.2 464.7 L284.0 465.8 L284.8 466.7 L285.5 467.4 L286.2 467.8 L287.0 468.0 L287.8 467.9 L288.5 467.6 L289.2 467.0 L290.0 466.3 L290.8 465.5 L291.5 464.5 L292.2 463.4 L293.0 462.3 L293.8 461.1 L294.5 459.8 L295.2 458.6 L296.0 457.0 L296.8 455.2 L297.5 453.2 L298.2 450.9 L299.0 448.4 L299.8 445.8 L300.5 443.0 L301.2 440.0 L302.0 437.0 L302.8 433.9 L303.5 430.4 L304.2 426.3 L305.0 421.8 L305.8 417.2 L306.5 412.4 L307.2 407.6 L308.0 403.0 L308.8 398.7 L309.5 394.8 L310.2 391.4 L311.0 388.2 L311.8 385.1 L312.5 382.0 L313.2 379.0 L314.0 376.2 L314.8 373.4 L315.5 370.7 L316.2 368.2 L317.0 365.8 L317.8 363.6 L318.5 361.6 L319.2 359.7 L320.0 358.0 L320.8 356.4 L321.5 354.9 L322.2 353.5 L323.0 352.1 L323.8 350.8 L324.5 349.6 L325.2 348.4 L326.0 347.3 L326.8 346.4 L327.5 345.5 L328.2 344.7 L329.0 344.0 L329.8 343.4 L330.5 342.7 L331.2 342.1 L332.0 341.5 L332.8 340.9 L333.5 340.4 L334.2 340.0 L335.0 339.6 L335.8 339.3 L336.5 339.1 L337.2 339.0 L338.0 339.1 L338.8 339.7 L339.5 340.6 L340.2 342.0 L341.0 343.5 L341.8 345.3 L342.5 347.3 L343.2 349.3 L344.0 351.4 L344.8 353.4 L345.5 355.3 L346.2 357.5 L347.0 359.8 L347.8 362.3 L348.5 365.0 L349.2 367.8 L350.0 370.6 L350.8 373.5 L351.5 376.5 L352.2 379.4 L353.0 382.4 L353.8 385.3 L354.5 388.2 L355.2 390.9 L356.0 393.7 L356.8 396.6 L357.5 399.5 L358.2 402.4 L359.0 405.3 L359.8 408.2 L360.5 411.1 L361.2 414.0 L362.0 416.7 L362.8 419.5 L363.5 422.1 L364.2 424.6 L365.0 427.0 L365.8 429.4 L366.5 431.8 L367.2 434.2 L368.0 436.5 L368.8 438.8 L369.5 440.9 L370.2 442.7 L371.0 444.3 L371.8 445.6 L372.5 446.7 L373.2 447.7 L374.0 448.6 L374.8 449.5 L375.5 450.3 L376.2 451.1 L377.0 451.7 L377.8 452.3 L378.5 452.7 L379.2 452.9 L380.0 453.0 L380.8 452.9 L381.5 452.6 L382.2 452.2 L383.0 451.6 L383.8 450.9 L384.5 450.1 L385.2 449.1 L386.0 448.1 L386.8 447.1 L387.5 445.9 L388.2 444.8 L389.0 443.6 L389.8 442.1 L390.5 440.2 L391.2 438.1 L392.0 435.7 L392.8 433.1 L393.5 430.4 L394.2 427.5 L395.0 424.6 L395.8 421.6 L396.5 418.7 L397.2 415.9 L398.0 413.2 L398.8 410.3 L399.5 407.3 L400.2 404.3 L401.0 401.2 L401.8 398.1 L402.5 395.0 L403.2 391.9 L404.0 388.9 L404.8 386.0 L405.5 383.1 L406.2 380.2 L407.0 377.4 L407.8 374.6 L408.5 371.8 L409.2 369.1 L410.0 366.4 L410.8 363.7 L411.5 361.0 L412.2 358.4 L413.0 355.7 L413.8 353.1 L414.5 350.4 L415.2 347.7 L416.0 345.1 L416.8 342.5 L417.5 340.0 L418.2 337.5 L419.0 335.2 L419.8 333.0 L420.5 331.0 L421.2 329.1 L422.0 327.1 L422.8 325.3 L423.5 323.5 L424.2 321.8 L425.0 320.2 L425.8 318.7 L426.5 317.4 L427.2 316.3 L428.0 315.4 L428.8 314.4 L429.5 313.5 L430.2 312.7 L431.0 312.1 L431.8 311.7 L432.5 311.5 L433.2 311.6 L434.0 312.0 L434.8 312.5 L435.5 313.3 L436.2 314.1 L437.0 315.0 L437.8 316.0 L438.5 317.0 L439.2 318.1 L440.0 319.6 L440.8 321.2 L441.5 323.1 L442.2 325.1 L443.0 327.3 L443.8 329.5 L444.5 331.7 L445.2 333.9 L446.0 336.1 L446.8 338.2 L447.5 340.2 L448.2 342.3 L449.0 344.4 L449.8 346.5 L450.5 348.6 L451.2 350.7 L452.0 352.9 L452.8 355.0 L453.5 357.2 L454.2 359.5 L455.0 361.7 L455.8 364.0 L456.5 366.4 L457.2 368.8 L458.0 371.2 L458.8 373.7 L459.5 376.3 L460.2 378.9 L461.0 381.8 L461.8 384.9 L462.5 388.1 L463.2 391.3 L464.0 394.5 L464.8 397.5 L465.5 400.3 L466.2 402.8 L467.0 405.2 L467.8 407.5 L468.5 409.7 L469.2 411.6 L470.0 413.2 L470.8 414.4 L471.5 415.4 L472.2 416.5 L473.0 417.3 L473.8 418.0 L474.5 418.4 L475.2 418.5 L476.0 418.2 L476.8 417.6 L477.5 416.8 L478.2 415.8 L479.0 414.7 L479.8 413.6 L480.5 412.1 L481.2 410.2 L482.0 408.0 L482.8 405.7 L483.5 403.5 L484.2 401.3 L485.0 399.2 L485.8 397.0 L486.5 394.8 L487.2 392.5 L488.0 390.0 L488.8 387.3 L489.5 384.4 L490.2 381.3 L491.0 378.0 L491.8 374.7 L492.5 371.3 L493.2 367.9 L494.0 364.5 L494.8 361.1 L495.5 357.7 L496.2 354.2 L497.0 350.6 L497.8 346.9 L498.5 343.2 L499.2 339.5 L500.0 335.8 L500.8 332.2 L501.5 328.8 L502.2 325.6 L503.0 322.7 L503.8 320.0 L504.5 317.5 L505.2 315.0 L506.0 312.5 L506.8 310.1 L507.5 307.8 L508.2 305.6 L509.0 303.6 L509.8 301.8 L510.5 300.3 L511.2 299.0 L512.0 298.0 L512.8 297.2 L513.5 296.4 L514.2 295.7 L515.0 295.1 L515.8 294.5 L516.5 294.1 L517.2 293.8 L518.0 293.8 L518.8 293.9 L519.5 294.2 L520.2 294.7 L521.0 295.4 L521.8 296.2 L522.5 297.1 L523.2 298.1 L524.0 299.0 L524.8 300.1 L525.5 301.3 L526.2 302.8 L527.0 304.5 L527.8 306.3 L528.5 308.3 L529.2 310.3 L530.0 312.5 L530.8 314.7 L531.5 317.0 L532.2 319.2 L533.0 321.6 L533.8 324.1 L534.5 326.8 L535.2 329.6 L536.0 332.6 L536.8 335.6 L537.5 338.8 L538.2 342.0 L539.0 345.2 L539.8 348.5 L540.5 351.7 L541.2 354.9 L542.0 358.0 L542.8 361.0 L543.5 364.1 L544.2 367.4 L545.0 370.7 L545.8 374.1 L546.5 377.5 L547.2 380.9 L548.0 384.1 L548.8 387.3 L549.5 390.3 L550.2 393.1 L551.0 395.7 L551.8 398.0 L552.5 400.0 L553.2 401.8 L554.0 403.6 L554.8 405.3 L555.5 406.9 L556.2 408.5 L557.0 409.9 L557.8 411.2 L558.5 412.4 L559.2 413.4 L560.0 414.2 L560.8 414.8 L561.5 415.3 L562.2 415.7 L563.0 416.2 L563.8 416.5 L564.5 416.9 L565.2 417.1 L566.0 417.3 L566.8 417.5 L567.5 417.5 L568.2 417.4 L569.0 417.0 L569.8 416.4 L570.5 415.7 L571.2 414.9 L572.0 414.1 L572.8 413.3 L573.5 412.5 L574.2 411.7 L575.0 410.8 L575.8 409.9 L576.5 408.9 L577.2 407.8" stroke="#e8191e" stroke-dasharray="9.5 8.5"/>
<path d="M65.0 384.5 L65.8 384.5 L66.5 384.6 L67.2 384.7 L68.0 384.8 L68.8 385.0 L69.5 385.3 L70.2 385.7 L71.0 386.1 L71.8 386.4 L72.5 386.7 L73.2 386.9 L74.0 387.1 L74.8 387.2 L75.5 387.4 L76.2 387.6 L77.0 387.7 L77.8 387.9 L78.5 388.1 L79.2 388.3 L80.0 388.5 L80.8 388.7 L81.5 389.0 L82.2 389.2 L83.0 389.5 L83.8 389.8 L84.5 390.1 L85.2 390.4 L86.0 390.7 L86.8 391.0 L87.5 391.3 L88.2 391.6 L89.0 391.9 L89.8 392.2 L90.5 392.6 L91.2 392.9 L92.0 393.2 L92.8 393.5 L93.5 393.8 L94.2 394.1 L95.0 394.4 L95.8 394.6 L96.5 394.9 L97.2 395.1 L98.0 395.2 L98.8 395.3 L99.5 395.1 L100.2 394.6 L101.0 393.8 L101.8 392.8 L102.5 391.8 L103.2 390.6 L104.0 388.9 L104.8 386.8 L105.5 384.5 L106.2 382.3 L107.0 380.1 L107.8 377.8 L108.5 375.4 L109.2 372.8 L110.0 370.0 L110.8 367.0 L111.5 363.7 L112.2 360.3 L113.0 356.7 L113.8 352.8 L114.5 348.8 L115.2 344.4 L116.0 339.9 L116.8 335.1 L117.5 330.0 L118.2 324.3 L119.0 317.8 L119.8 310.6 L120.5 302.9 L121.2 294.8 L122.0 286.5 L122.8 278.3 L123.5 270.2 L124.2 262.3 L125.0 255.0 L125.8 248.1 L126.5 241.5 L127.2 234.8 L128.0 228.0 L128.8 220.8 L129.5 213.4 L130.2 205.7 L131.0 198.0 L131.8 190.2 L132.5 182.7 L133.2 175.4 L134.0 168.5 L134.8 162.0 L135.5 156.1 L136.2 150.3 L137.0 144.7 L137.8 139.3 L138.5 134.0 L139.2 129.0 L140.0 124.2 L140.8 119.6 L141.5 115.3 L142.2 111.3 L143.0 107.5 L143.8 103.8 L144.5 100.3 L145.2 97.1 L146.0 94.2 L146.8 91.7 L147.5 89.6 L148.2 87.4 L149.0 85.4 L149.8 84.0 L150.5 83.5 L151.2 84.2 L152.0 85.8 L152.8 87.9 L153.5 90.0 L154.2 92.0 L155.0 94.2 L155.8 96.6 L156.5 99.2 L157.2 102.0 L158.0 105.1 L158.8 108.7 L159.5 112.7 L160.2 117.0 L161.0 121.5 L161.8 126.2 L162.5 131.1 L163.2 136.0 L164.0 141.0 L164.8 145.9 L165.5 150.7 L166.2 155.7 L167.0 160.7 L167.8 165.8 L168.5 171.0 L169.2 176.2 L170.0 181.6 L170.8 187.0 L171.5 192.5 L172.2 198.1 L173.0 203.9 L173.8 210.1 L174.5 216.4 L175.2 222.5 L176.0 228.0 L176.8 232.9 L177.5 237.5 L178.2 241.9 L179.0 246.1 L179.8 250.2 L180.5 254.2 L181.2 258.2 L182.0 262.3 L182.8 266.4 L183.5 270.6 L184.2 275.0 L185.0 279.4 L185.8 283.7 L186.5 288.0 L187.2 292.1 L188.0 296.0 L188.8 299.7 L189.5 303.0 L190.2 306.0 L191.0 308.7 L191.8 311.4 L192.5 314.0 L193.2 316.4 L194.0 318.6 L194.8 320.6 L195.5 322.4 L196.2 323.9 L197.0 325.3 L197.8 326.7 L198.5 328.0 L199.2 329.0 L200.0 329.5 L200.8 329.5 L201.5 329.1 L202.2 328.2 L203.0 327.0 L203.8 325.5 L204.5 324.0 L205.2 321.9 L206.0 319.1 L206.8 315.7 L207.5 312.0 L208.2 307.9 L209.0 303.1 L209.8 297.9 L210.5 292.3 L211.2 286.4 L212.0 280.6 L212.8 274.8 L213.5 269.3 L214.2 264.0 L215.0 258.6 L215.8 253.3 L216.5 247.9 L217.2 242.6 L218.0 237.5 L218.8 232.5 L219.5 227.9 L220.2 223.6 L221.0 219.3 L221.8 215.0 L222.5 210.8 L223.2 206.8 L224.0 203.2 L224.8 200.0 L225.5 197.4 L226.2 195.4 L227.0 193.5 L227.8 191.8 L228.5 190.2 L229.2 188.9 L230.0 188.0 L230.8 187.5 L231.5 187.6 L232.2 188.1 L233.0 188.9 L233.8 190.0 L234.5 191.3 L235.2 192.6 L236.0 194.0 L236.8 195.5 L237.5 197.3 L238.2 199.4 L239.0 201.7 L239.8 204.2 L240.5 206.9 L241.2 209.7 L242.0 212.7 L242.8 215.8 L243.5 218.9 L244.2 222.2 L245.0 225.9 L245.8 229.9 L246.5 234.1 L247.2 238.6 L248.0 243.3 L248.8 248.1 L249.5 253.0 L250.2 257.8 L251.0 262.7 L251.8 267.4 L252.5 272.0 L253.2 276.6 L254.0 281.4 L254.8 286.3 L255.5 291.2 L256.2 296.1 L257.0 300.9 L257.8 305.5 L258.5 309.8 L259.2 313.9 L260.0 317.5 L260.8 320.9 L261.5 324.4 L262.2 327.7 L263.0 331.0 L263.8 334.1 L264.5 336.9 L265.2 339.5 L266.0 341.7 L266.8 343.6 L267.5 345.0 L268.2 346.1 L269.0 347.3 L269.8 348.3 L270.5 349.3 L271.2 350.3 L272.0 351.2 L272.8 351.9 L273.5 352.6 L274.2 353.2 L275.0 353.7 L275.8 354.1 L276.5 354.4 L277.2 354.5 L278.0 354.5 L278.8 354.3 L279.5 354.1 L280.2 353.8 L281.0 353.4 L281.8 352.9 L282.5 352.4 L283.2 351.8 L284.0 351.1 L284.8 350.5 L285.5 349.8 L286.2 349.1 L287.0 348.5 L287.8 347.8 L288.5 347.2 L289.2 346.6 L290.0 346.0 L290.8 345.4 L291.5 344.8 L292.2 344.1 L293.0 343.4 L293.8 342.7 L294.5 342.0 L295.2 341.3 L296.0 340.6 L296.8 340.0 L297.5 339.4 L298.2 338.9 L299.0 338.5 L299.8 338.2 L300.5 338.0 L301.2 338.0 L302.0 338.3 L302.8 338.9 L303.5 339.8 L304.2 340.9 L305.0 342.2 L305.8 343.6 L306.5 345.1 L307.2 346.6 L308.0 348.1 L308.8 349.5 L309.5 351.0 L310.2 352.7 L311.0 354.7 L311.8 356.8 L312.5 359.0 L313.2 361.3 L314.0 363.5 L314.8 365.7 L315.5 367.6 L316.2 369.3 L317.0 370.6 L317.8 371.5 L318.5 372.0 L319.2 371.9 L320.0 371.6 L320.8 371.1 L321.5 370.4 L322.2 369.6 L323.0 368.6 L323.8 367.5 L324.5 366.3 L325.2 365.2 L326.0 364.0 L326.8 362.7 L327.5 361.1 L328.2 359.3 L329.0 357.3 L329.8 355.2 L330.5 353.1 L331.2 350.9 L332.0 348.8 L332.8 346.8 L333.5 344.9 L334.2 342.8 L335.0 340.8 L335.8 338.7 L336.5 336.7 L337.2 334.6 L338.0 332.6 L338.8 330.7 L339.5 328.7 L340.2 326.9 L341.0 325.0 L341.8 323.1 L342.5 321.1 L343.2 319.2 L344.0 317.3 L344.8 315.4 L345.5 313.6 L346.2 311.9 L347.0 310.2 L347.8 308.7 L348.5 307.3 L349.2 306.1 L350.0 305.0 L350.8 304.0 L351.5 303.0 L352.2 302.1 L353.0 301.1 L353.8 300.3 L354.5 299.5 L355.2 298.9 L356.0 298.4 L356.8 298.1 L357.5 298.0 L358.2 298.2 L359.0 298.8 L359.8 299.6 L360.5 300.7 L361.2 301.9 L362.0 303.2 L362.8 304.6 L363.5 305.9 L364.2 307.6 L365.0 309.6 L365.8 311.7 L366.5 314.0 L367.2 316.4 L368.0 318.9 L368.8 321.2 L369.5 323.5 L370.2 325.7 L371.0 327.9 L371.8 330.2 L372.5 332.5 L373.2 334.8 L374.0 337.2 L374.8 339.6 L375.5 342.0 L376.2 344.3 L377.0 346.6 L377.8 348.8 L378.5 350.9 L379.2 352.9 L380.0 354.8 L380.8 356.5 L381.5 358.1 L382.2 359.6 L383.0 360.9 L383.8 362.1 L384.5 363.4 L385.2 364.7 L386.0 366.0 L386.8 367.2 L387.5 368.3 L388.2 369.4 L389.0 370.4 L389.8 371.3 L390.5 372.1 L391.2 372.7 L392.0 373.2 L392.8 373.6 L393.5 373.7 L394.2 373.7 L395.0 373.3 L395.8 372.7 L396.5 372.0 L397.2 371.0 L398.0 370.0 L398.8 368.9 L399.5 367.7 L400.2 366.6 L401.0 365.4 L401.8 364.0 L402.5 362.4 L403.2 360.8 L404.0 359.0 L404.8 357.1 L405.5 355.2 L406.2 353.3 L407.0 351.3 L407.8 349.4 L408.5 347.5 L409.2 345.6 L410.0 343.6 L410.8 341.6 L411.5 339.5 L412.2 337.4 L413.0 335.3 L413.8 333.1 L414.5 331.1 L415.2 329.0 L416.0 327.0 L416.8 325.0 L417.5 323.0 L418.2 320.9 L419.0 318.9 L419.8 317.0 L420.5 315.2 L421.2 313.5 L422.0 312.0 L422.8 310.5 L423.5 309.0 L424.2 307.6 L425.0 306.3 L425.8 305.1 L426.5 304.1 L427.2 303.2 L428.0 302.4 L428.8 301.5 L429.5 300.7 L430.2 300.0 L431.0 299.5 L431.8 299.1 L432.5 299.0 L433.2 299.2 L434.0 299.9 L434.8 300.8 L435.5 302.1 L436.2 303.5 L437.0 305.0 L437.8 306.5 L438.5 308.0 L439.2 309.5 L440.0 311.2 L440.8 313.1 L441.5 315.1 L442.2 317.2 L443.0 319.4 L443.8 321.6 L444.5 323.9 L445.2 326.2 L446.0 328.5 L446.8 330.8 L447.5 333.1 L448.2 335.6 L449.0 338.1 L449.8 340.7 L450.5 343.3 L451.2 345.9 L452.0 348.4 L452.8 350.8 L453.5 353.1 L454.2 355.4 L455.0 357.7 L455.8 359.9 L456.5 362.1 L457.2 364.2 L458.0 366.2 L458.8 367.9 L459.5 369.6 L460.2 371.3 L461.0 373.1 L461.8 374.8 L462.5 376.5 L463.2 378.0 L464.0 379.5 L464.8 380.7 L465.5 381.7 L466.2 382.5 L467.0 382.9 L467.8 383.0 L468.5 382.9 L469.2 382.6 L470.0 382.2 L470.8 381.7 L471.5 381.1 L472.2 380.4 L473.0 379.7 L473.8 378.9 L474.5 378.1 L475.2 377.2 L476.0 376.3 L476.8 375.4 L477.5 374.6 L478.2 373.7 L479.0 372.8 L479.8 371.8 L480.5 370.6 L481.2 369.4 L482.0 368.2 L482.8 366.9 L483.5 365.6 L484.2 364.2 L485.0 362.9 L485.8 361.6 L486.5 360.3 L487.2 359.0 L488.0 357.8 L488.8 356.7 L489.5 355.6 L490.2 354.7 L491.0 353.7 L491.8 352.7 L492.5 351.7 L493.2 350.7 L494.0 349.7 L494.8 348.7 L495.5 347.8 L496.2 346.9 L497.0 346.1 L497.8 345.4 L498.5 344.8 L499.2 344.3 L500.0 344.0 L500.8 343.8 L501.5 343.8 L502.2 343.9 L503.0 344.3 L503.8 344.8 L504.5 345.4 L505.2 346.2 L506.0 347.1 L506.8 348.1 L507.5 349.2 L508.2 350.3 L509.0 351.4 L509.8 352.6 L510.5 353.8 L511.2 354.9 L512.0 356.0 L512.8 357.1 L513.5 358.4 L514.2 359.8 L515.0 361.3 L515.8 362.8 L516.5 364.4 L517.2 366.0 L518.0 367.7 L518.8 369.4 L519.5 371.1 L520.2 372.8 L521.0 374.4 L521.8 376.0 L522.5 377.5 L523.2 379.0 L524.0 380.4 L524.8 381.6 L525.5 382.8 L526.2 384.0 L527.0 385.2 L527.8 386.5 L528.5 387.7 L529.2 389.0 L530.0 390.2 L530.8 391.4 L531.5 392.6 L532.2 393.8 L533.0 394.8 L533.8 395.9 L534.5 396.8 L535.2 397.7 L536.0 398.5 L536.8 399.1 L537.5 399.7 L538.2 400.1 L539.0 400.4 L539.8 400.5 L540.5 400.5 L541.2 400.3 L542.0 400.0 L542.8 399.7 L543.5 399.2 L544.2 398.6 L545.0 397.9 L545.8 397.2 L546.5 396.4 L547.2 395.6 L548.0 394.8 L548.8 393.9 L549.5 393.0 L550.2 392.1 L551.0 391.2 L551.8 390.3 L552.5 389.4 L553.2 388.4 L554.0 387.3 L554.8 386.2 L555.5 385.0 L556.2 383.7 L557.0 382.3 L557.8 381.0 L558.5 379.6 L559.2 378.2 L560.0 376.8 L560.8 375.3 L561.5 374.0 L562.2 372.6 L563.0 371.3 L563.8 370.0 L564.5 368.8 L565.2 367.6 L566.0 366.5 L566.8 365.4 L567.5 364.3 L568.2 363.2 L569.0 362.1 L569.8 361.1 L570.5 360.0 L571.2 359.0 L572.0 358.0 L572.8 357.0 L573.5 356.0 L574.2 355.0 L575.0 354.1 L575.8 353.1 L576.5 352.2 L577.2 351.3" stroke="#e8191e"/>
</g>
<g font-size="24.6" text-anchor="end">
<text x="54.6" y="85.0">40</text>
<text x="54.6" y="238.6">20</text>
<text x="54.6" y="392.2">0</text>
<text x="54.6" y="545.8">-20</text>
</g>
<g font-size="24.6" text-anchor="middle">
<text x="64.8" y="569.3">0.00</text>
<text x="235.8" y="569.3">0.05</text>
<text x="406.4" y="569.3">0.10</text>
<text x="578.6" y="569.3">0.15</text>
</g>
<text class="big" font-size="32.5" textLength="335" lengthAdjust="spacing" transform="translate(29.5 433.2) rotate(-90)">Lift height of end (mm)</text>
<text class="big" font-size="33" x="261.6" y="587.4">Time(s)</text>
<text class="big" font-size="44" x="276.3" y="648.1" textLength="53.4" lengthAdjust="spacingAndGlyphs">(a)</text>
<path d="M270.7 12 H315.4" stroke="#000" stroke-width="1.7" stroke-dasharray="9.5 8.1" fill="none"/>
<text font-size="22.3" x="327.6" y="20.0" textLength="215.2" lengthAdjust="spacingAndGlyphs">25km/h(with damage)</text>
<path d="M270.8 40.3 H321.8" stroke="#000" stroke-width="1.7" fill="none"/>
<text font-size="22.3" x="327.6" y="48.3" textLength="246.8" lengthAdjust="spacingAndGlyphs">25km/h(without damage)</text>
<path d="M270.7 68.6 H315.4" stroke="#1ea0f0" stroke-width="1.7" stroke-dasharray="9.5 8.1" fill="none"/>
<text font-size="22.3" x="327.6" y="76.6" textLength="215.2" lengthAdjust="spacingAndGlyphs">36km/h(with damage)</text>
<path d="M270.8 96.9 H321.8" stroke="#1ea0f0" stroke-width="1.7" fill="none"/>
<text font-size="22.3" x="327.6" y="104.9" textLength="246.8" lengthAdjust="spacingAndGlyphs">36km/h(without damage)</text>
<path d="M270.7 125.2 H315.4" stroke="#e8191e" stroke-width="1.7" stroke-dasharray="9.5 8.1" fill="none"/>
<text font-size="22.3" x="327.6" y="133.2" textLength="215.2" lengthAdjust="spacingAndGlyphs">48km/h(with damage)</text>
<path d="M270.8 153.5 H321.8" stroke="#e8191e" stroke-width="1.7" fill="none"/>
<text font-size="22.3" x="327.6" y="161.5" textLength="246.8" lengthAdjust="spacingAndGlyphs">48km/h(without damage)</text>
<g stroke="#2e2e2e" stroke-width="1.9" fill="none">
<path d="M68.0 683.2 V1220 H586.1 V683.2 Z"/>
<path d="M68.0 1184.2 h9"/>
<path d="M68.0 1148.4 h4.5"/>
<path d="M68.0 1112.6 h9"/>
<path d="M68.0 1076.9 h4.5"/>
<path d="M68.0 1041.1 h9"/>
<path d="M68.0 1005.3 h4.5"/>
<path d="M68.0 969.5 h9"/>
<path d="M68.0 933.7 h4.5"/>
<path d="M68.0 897.9 h9"/>
<path d="M68.0 862.1 h4.5"/>
<path d="M68.0 826.3 h9"/>
<path d="M68.0 790.6 h4.5"/>
<path d="M68.0 754.8 h9"/>
<path d="M68.0 719.0 h4.5"/>
<path d="M119.5 1220 v-9"/>
<path d="M171.4 1220 v-4.5"/>
<path d="M223.3 1220 v-9"/>
<path d="M275.2 1220 v-4.5"/>
<path d="M327.1 1220 v-9"/>
<path d="M379.0 1220 v-4.5"/>
<path d="M430.9 1220 v-9"/>
<path d="M482.8 1220 v-4.5"/>
<path d="M534.7 1220 v-9"/>
</g>
<g font-size="24" text-anchor="end">
<text x="56.8" y="1191.6">26</text>
<text x="56.8" y="1120.0">28</text>
<text x="56.8" y="1048.5">30</text>
<text x="56.8" y="976.9">32</text>
<text x="56.8" y="905.3">34</text>
<text x="56.8" y="833.7">36</text>
<text x="56.8" y="762.2">38</text>
<text x="56.8" y="690.6">40</text>
</g>
<g font-size="24.3" text-anchor="middle">
<text x="119.5" y="1250.6">25</text>
<text x="327.4" y="1250.6">36</text>
<text x="534.6" y="1250.6">48</text>
</g>
<text class="big" font-size="33" textLength="479.5" lengthAdjust="spacing" transform="translate(24.9 1195.2) rotate(-90)">Maximum lift height of end (mm)</text>
<text class="big" font-size="33" x="214.8" y="1273">Velocity(</text>
<text class="big" font-size="33" x="339.2" y="1273" textLength="70.5" lengthAdjust="spacingAndGlyphs">km·h</text>
<text font-size="21" x="412.4" y="1267.2" letter-spacing="-1.5" style="stroke-width:.3px">-1</text>
<text class="big" font-size="33" x="429.4" y="1273">)</text>
<text class="big" font-size="44" x="276.3" y="1333" textLength="53.4" lengthAdjust="spacingAndGlyphs">(b)</text>
<g fill="none" stroke-width="1.8">
<path d="M119.5 1137.2 L326.9 948 L534.4 806.1" stroke="#000"/>
<path d="M119.5 1092.5 L326.9 904.2 L534.4 715.1" stroke="#f00"/>
<path d="M110.5 736.8 H174.3" stroke="#000"/>
<path d="M110.5 772 H174.3" stroke="#f00"/>
</g>
<rect x="114.5" y="1132.2" width="10" height="10" fill="#000"/>
<rect x="321.9" y="943.0" width="10" height="10" fill="#000"/>
<rect x="529.4" y="801.1" width="10" height="10" fill="#000"/>
<circle cx="119.5" cy="1092.5" r="5.2" fill="#f00"/>
<circle cx="326.9" cy="904.2" r="5.2" fill="#f00"/>
<circle cx="534.4" cy="715.1" r="5.2" fill="#f00"/>
<rect x="137.5" y="731.8" width="10" height="10" fill="#000"/>
<circle cx="142.4" cy="772" r="5.2" fill="#f00"/>
<text font-size="27.9" x="181.8" y="746.4" style="stroke-width:.55px">with damage</text>
<text font-size="27.9" x="181.8" y="781.9" style="stroke-width:.55px">without damage</text>
</svg></body></html>
